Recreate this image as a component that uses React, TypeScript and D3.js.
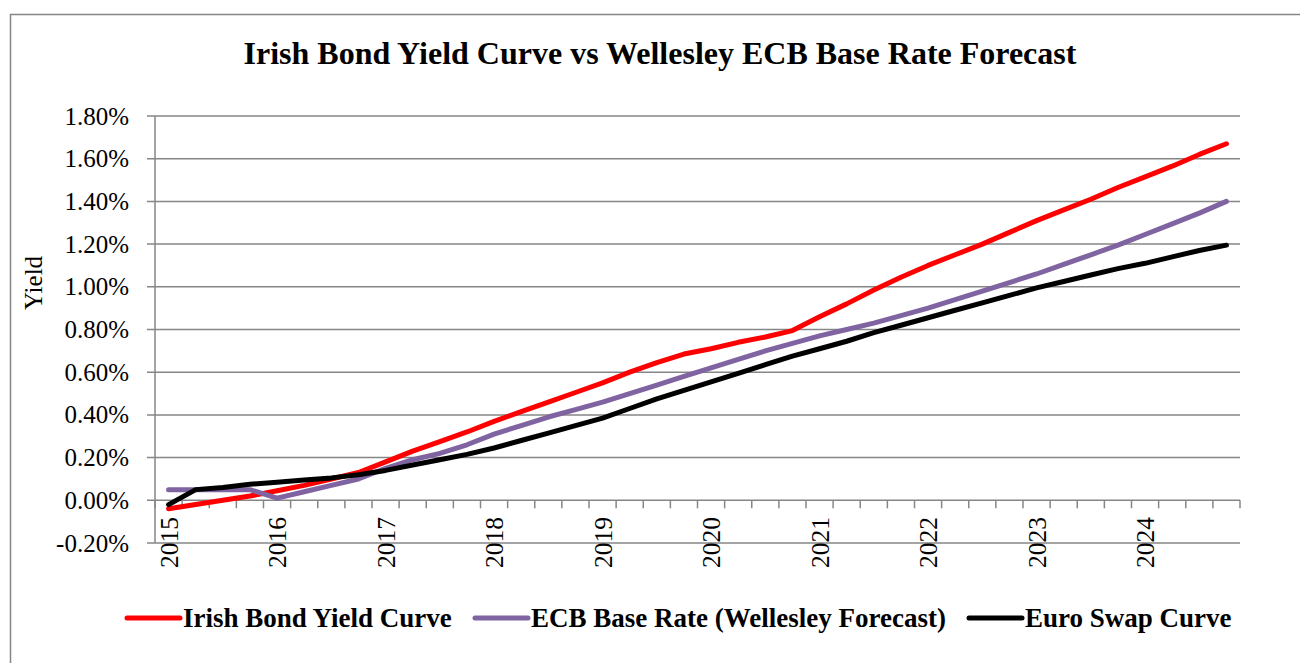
import React, { useEffect, useRef } from "react";
import * as d3 from "d3";

// quarterly points, 2015 Q1 .. 2024 Q4
const years = ["2015", "2016", "2017", "2018", "2019", "2020", "2021", "2022", "2023", "2024"];
const quarters = years.flatMap((y) => [1, 2, 3, 4].map((q) => `${y} Q${q}`));

const irishBond = [
	-0.04, -0.02, 0.0, 0.02, 0.045, 0.07, 0.1, 0.13, 0.18, 0.23, 0.275, 0.32, 0.37, 0.415, 0.46, 0.505,
	0.55, 0.6, 0.645, 0.685, 0.71, 0.74, 0.765, 0.795, 0.86, 0.92, 0.985, 1.045, 1.1, 1.15, 1.2, 1.255,
	1.31, 1.36, 1.41, 1.465, 1.515, 1.565, 1.62, 1.67,
];
const ecbBase = [
	0.05, 0.05, 0.05, 0.05, 0.01, 0.04, 0.07, 0.1, 0.15, 0.19, 0.22, 0.26, 0.31, 0.35, 0.39, 0.425, 0.46,
	0.5, 0.54, 0.58, 0.62, 0.66, 0.7, 0.735, 0.77, 0.8, 0.83, 0.865, 0.9, 0.94, 0.98, 1.02, 1.06, 1.105,
	1.15, 1.195, 1.245, 1.295, 1.345, 1.4,
];
const euroSwap = [
	-0.02, 0.05, 0.06, 0.075, 0.085, 0.095, 0.105, 0.12, 0.14, 0.165, 0.19, 0.215, 0.245, 0.28, 0.315,
	0.35, 0.385, 0.43, 0.475, 0.515, 0.555, 0.595, 0.635, 0.675, 0.71, 0.745, 0.785, 0.82, 0.855, 0.89,
	0.925, 0.96, 0.995, 1.025, 1.055, 1.085, 1.11, 1.14, 1.17, 1.195,
];

const yTicks = [-0.2, 0, 0.2, 0.4, 0.6, 0.8, 1.0, 1.2, 1.4, 1.6, 1.8];

const series = [
	{ name: "Irish Bond Yield Curve", values: irishBond, color: "#ff0000" },
	{ name: "ECB Base Rate (Wellesley Forecast)", values: ecbBase, color: "#8064a2" },
	{ name: "Euro Swap Curve", values: euroSwap, color: "#000000" },
];

const W = 1300;
const H = 663;
const serif = "'Liberation Serif', 'Times New Roman', serif";

export default function App() {
	const svgRef = useRef<SVGSVGElement>(null);

	useEffect(() => {
		const svg = d3.select(svgRef.current);
		svg.selectAll("*").remove();

		const left = 155;
		const right = 1240;
		const top = 116;
		const bottom = 543;

		const x = d3.scaleBand().domain(quarters).range([left, right]).padding(0);
		const y = d3.scaleLinear().domain([-0.2, 1.8]).range([bottom, top]);
		const grid = "#868686";

		// outer frame
		svg
			.append("rect")
			.attr("x", 10.5)
			.attr("y", 14.5)
			.attr("width", W + 20)
			.attr("height", H + 20)
			.attr("fill", "white")
			.attr("stroke", grid)
			.attr("stroke-width", 1.5);

		svg
			.append("text")
			.attr("x", 660)
			.attr("y", 64)
			.attr("text-anchor", "middle")
			.attr("font-family", serif)
			.attr("font-weight", "bold")
			.attr("font-size", 32)
			.text("Irish Bond Yield Curve vs Wellesley ECB Base Rate Forecast");

		// gridlines
		svg
			.append("g")
			.selectAll("line")
			.data(yTicks)
			.join("line")
			.attr("x1", left - 8)
			.attr("x2", right)
			.attr("y1", (d) => y(d))
			.attr("y2", (d) => y(d))
			.attr("stroke", grid)
			.attr("stroke-width", 1.5);

		// y axis line
		svg
			.append("line")
			.attr("x1", left)
			.attr("x2", left)
			.attr("y1", top)
			.attr("y2", bottom)
			.attr("stroke", grid)
			.attr("stroke-width", 1.5);

		// y labels (plain hyphen for negatives, like the original)
		svg
			.append("g")
			.selectAll("text")
			.data(yTicks)
			.join("text")
			.attr("x", 129)
			.attr("y", (d) => y(d) + 8.5)
			.attr("text-anchor", "end")
			.attr("font-family", serif)
			.attr("font-size", 25)
			.text((d) => d.toFixed(2) + "%");

		svg
			.append("text")
			.attr("transform", `translate(42, 283) rotate(-90)`)
			.attr("text-anchor", "middle")
			.attr("font-family", serif)
			.attr("font-size", 25)
			.text("Yield");

		// x axis at zero with category ticks
		const y0 = y(0);
		const boundaries = d3.range(quarters.length + 1).map((i) => left + i * x.bandwidth());
		svg
			.append("g")
			.selectAll("line")
			.data(boundaries)
			.join("line")
			.attr("x1", (d) => d)
			.attr("x2", (d) => d)
			.attr("y1", y0)
			.attr("y2", y0 + 8)
			.attr("stroke", grid)
			.attr("stroke-width", 1.5);

		svg
			.append("g")
			.selectAll("text")
			.data(years)
			.join("text")
			.attr("transform", (d) => {
				const cx = (x(`${d} Q1`) ?? 0) + x.bandwidth() / 2;
				return `translate(${cx + 9}, 517) rotate(-90)`;
			})
			.attr("text-anchor", "end")
			.attr("font-family", serif)
			.attr("font-size", 25.5)
			.text((d) => d);

		// series
		const line = d3
			.line<number>()
			.x((d, i) => (x(quarters[i]) ?? 0) + x.bandwidth() / 2)
			.y((d) => y(d));

		series.forEach((s) => {
			svg
				.append("path")
				.attr("d", line(s.values))
				.attr("fill", "none")
				.attr("stroke", s.color)
				.attr("stroke-width", 5)
				.attr("stroke-linejoin", "round")
				.attr("stroke-linecap", "round");
		});

		// legend
		const legendX = [127, 475, 969];
		const legend = svg
			.append("g")
			.selectAll("g")
			.data(series)
			.join("g")
			.attr("transform", (d, i) => `translate(${legendX[i]}, 618)`);
		legend
			.append("line")
			.attr("x1", 0)
			.attr("x2", 53)
			.attr("stroke", (d) => d.color)
			.attr("stroke-width", 5)
			.attr("stroke-linecap", "round");
		legend
			.append("text")
			.attr("x", 56)
			.attr("y", 9)
			.attr("font-family", serif)
			.attr("font-weight", "bold")
			.attr("font-size", 27)
			.text((d) => d.name);
	}, []);

	return (
		<svg
			ref={svgRef}
			width={W}
			height={H}
			style={{ position: "absolute", left: 0, top: 0, background: "white" }}
		></svg>
	);
}
